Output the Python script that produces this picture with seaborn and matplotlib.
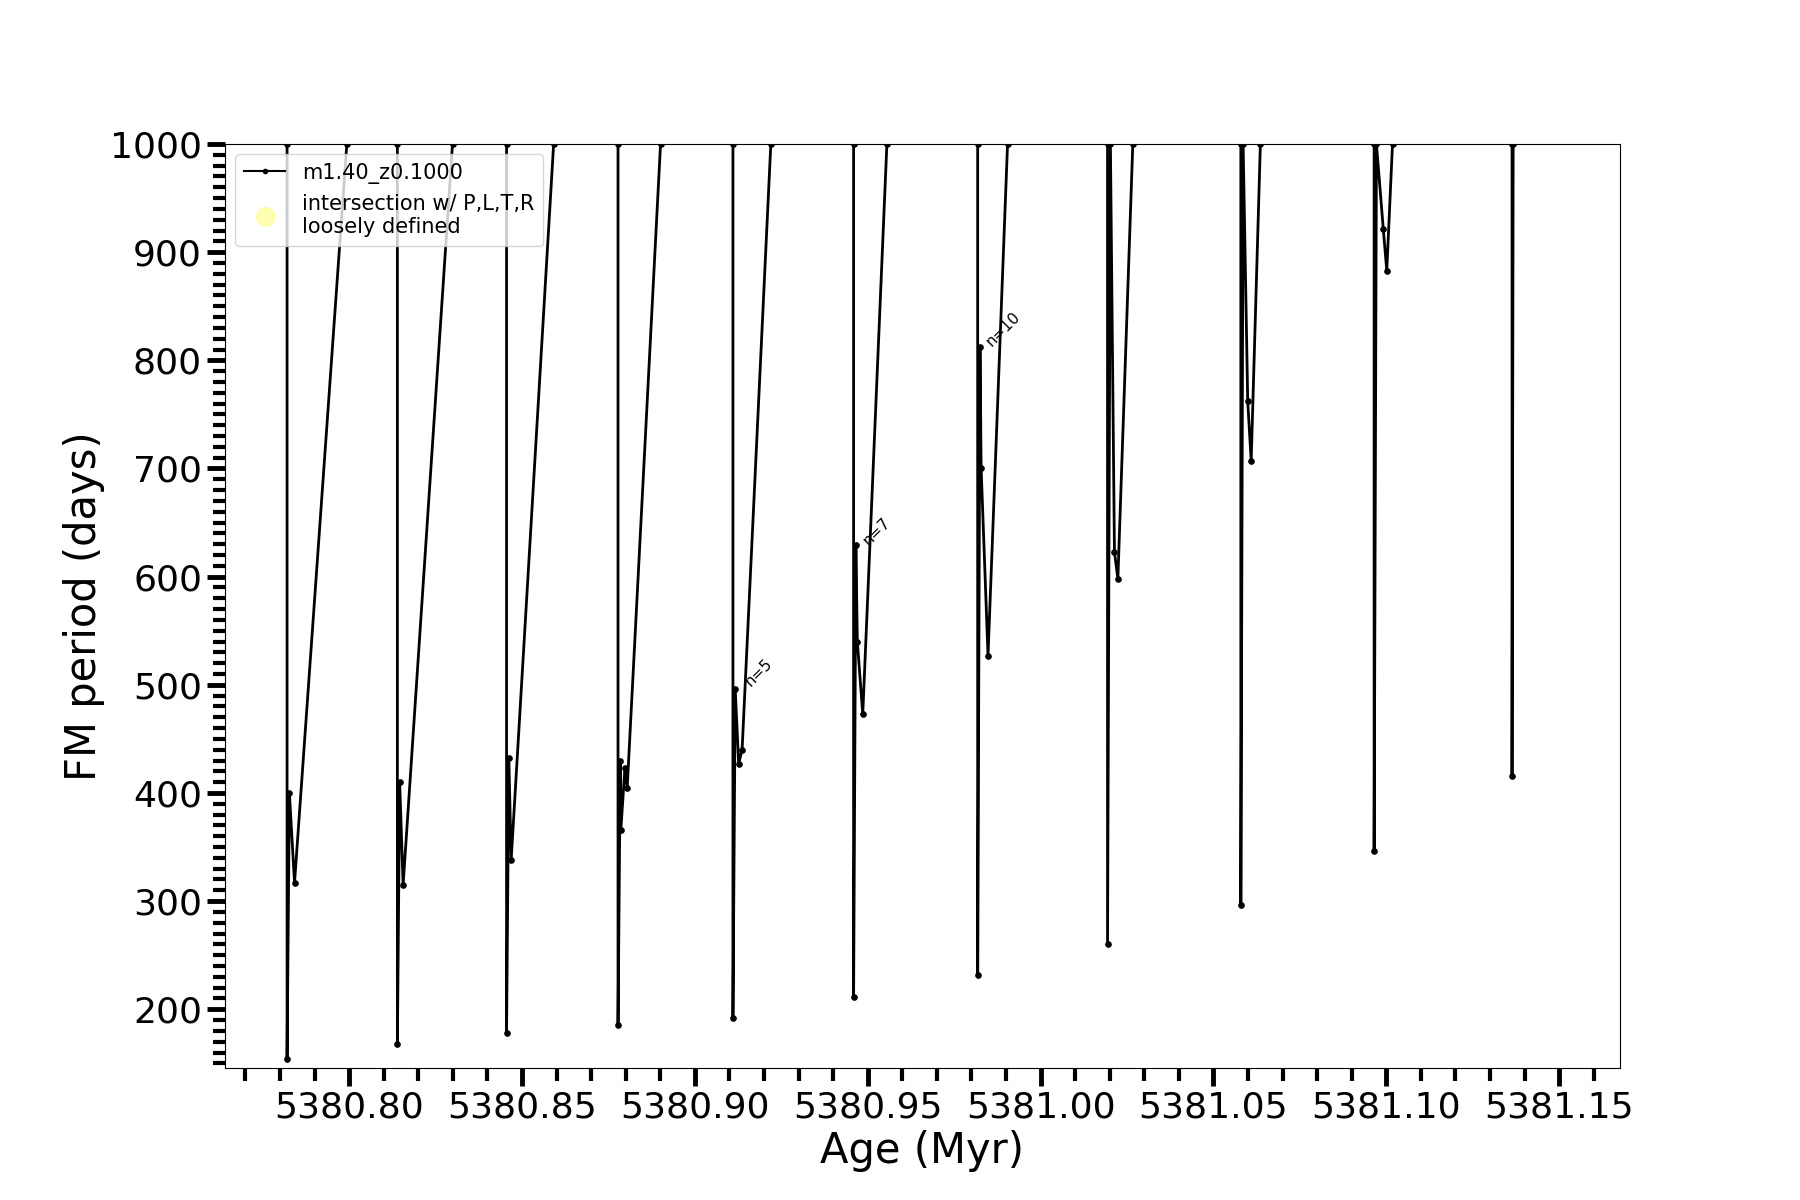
import numpy as np
import pandas as pd
import matplotlib
matplotlib.use("Agg")
import matplotlib.pyplot as plt
import seaborn as sns
from matplotlib.ticker import MultipleLocator, FormatStrFormatter
from matplotlib.lines import Line2D

# FM period vs age, one list per thermal pulse (vertices)
pulse_ages = [
    [5380.78205, 5380.78205, 5380.78272, 5380.78421, 5380.79934],
    [5380.81396, 5380.81396, 5380.81462, 5380.81562, 5380.82991],
    [5380.84554, 5380.84554, 5380.84620, 5380.84687, 5380.85916],
    [5380.87778, 5380.87778, 5380.87844, 5380.87860, 5380.87977, 5380.88044, 5380.89008],
    [5380.91102, 5380.91102, 5380.91168, 5380.91268, 5380.91367, 5380.92198],
    [5380.94592, 5380.94592, 5380.94658, 5380.94700, 5380.94857, 5380.95555],
    [5380.98181, 5380.98181, 5380.98248, 5380.98281, 5380.98480, 5380.99045],
    [5381.01937, 5381.01937, 5381.02020, 5381.02137, 5381.02236, 5381.02668],
    [5381.05793, 5381.05793, 5381.05859, 5381.05992, 5381.06092, 5381.06358],
    [5381.09648, 5381.09648, 5381.09715, 5381.09914, 5381.10014, 5381.10180],
    [5381.13637, 5381.13637, 5381.13670],
]
pulse_periods = [
    [1000, 154, 400, 317, 1000],
    [1000, 168, 410, 315, 1000],
    [1000, 178, 432, 338, 1000],
    [1000, 185, 430, 366, 423, 405, 1000],
    [1000, 192, 496, 427, 440, 1000],
    [1000, 211, 629, 540, 473, 1000],
    [1000, 232, 812, 700, 527, 1000],
    [1000, 260, 1000, 623, 598, 1000],
    [1000, 296, 1000, 762, 707, 1000],
    [1000, 346, 1000, 921, 883, 1000],
    [1000, 416, 1000],
]

# pulse labels
label_text = ["n=5", "n=7", "n=10"]
label_age = [5380.9137, 5380.9479, 5380.9835]
label_period = [496, 626, 810]

rows = []
for i, (a, p) in enumerate(zip(pulse_ages, pulse_periods)):
    for x, y in zip(a, p):
        rows.append({"age": x, "period": y, "pulse": i})
df = pd.DataFrame(rows)

fig, ax = plt.subplots(figsize=(18, 12), dpi=100)

sns.lineplot(data=df, x="age", y="period", units="pulse", estimator=None,
             sort=False, color="black", marker="o", markersize=4,
             markeredgecolor="black", linewidth=2, ax=ax)

for t, x, y in zip(label_text, label_age, label_period):
    ax.text(x, y, t, rotation=45, fontsize=11, ha="left", va="bottom")

ax.set_xlim(5380.7641, 5381.1676)
ax.set_ylim(145.7, 1000)

ax.xaxis.set_major_locator(MultipleLocator(0.05))
ax.xaxis.set_minor_locator(MultipleLocator(0.01))
ax.xaxis.set_major_formatter(FormatStrFormatter("%.2f"))
ax.yaxis.set_major_locator(MultipleLocator(100))
ax.yaxis.set_minor_locator(MultipleLocator(10))
ax.tick_params(which="major", length=13, width=3.5, labelsize=26)
ax.tick_params(which="minor", length=9, width=3)

ax.set_xlabel("Age (Myr)", fontsize=30)
ax.set_ylabel("FM period (days)", fontsize=30)

handles = [
    Line2D([], [], color="black", marker=".", markersize=6, linewidth=1.5),
    Line2D([], [], color="yellow", alpha=0.3, marker="o", linestyle="", markersize=13),
]
ax.legend(handles, ["m1.40_z0.1000", "intersection w/ P,L,T,R\nloosely defined"],
          loc="upper left", fontsize=15)

fig.savefig("out.png", dpi=100)
